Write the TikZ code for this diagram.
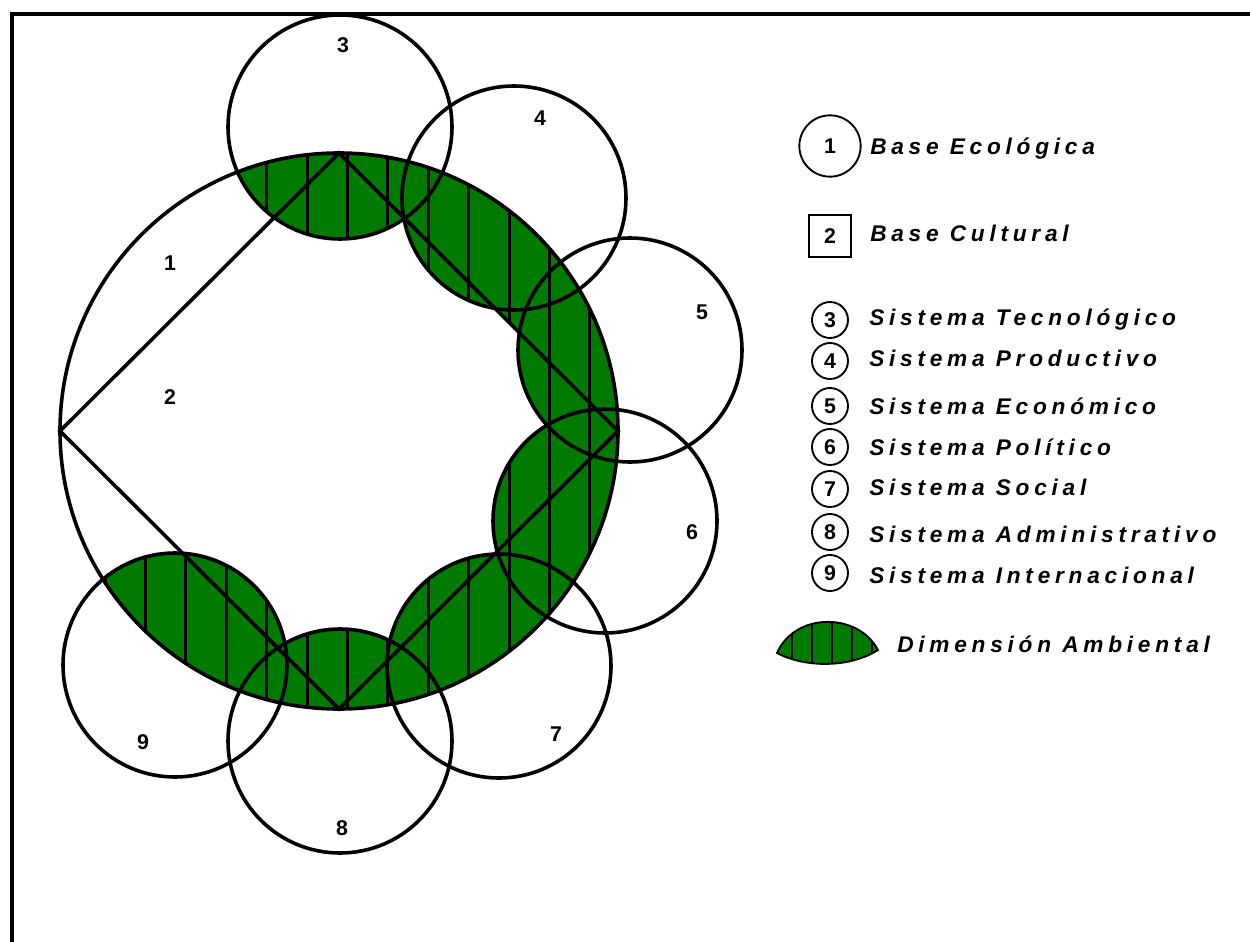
\documentclass[tikz,border=0pt]{standalone}
\usepackage{fontspec}
\setmainfont{Liberation Sans}
\newfontfamily\legfont{Liberation Sans}[LetterSpace=21]
\definecolor{ambgreen}{RGB}{0,122,0}

\begin{document}
\begin{tikzpicture}[
    x=0.75pt, y=-0.75pt,
    ring/.style={draw, line width=2.7pt},
    hatch/.style={line width=2.2pt},
    num/.style={font=\fontsize{16}{18}\selectfont\bfseries, inner sep=0pt},
    keyring/.style={circle, draw, line width=1.4pt, minimum size=27pt, num},
    legtext/.style={font=\fontsize{17}{20}\selectfont\legfont\bfseries\itshape, anchor=base west, inner sep=0pt}
]
\useasboundingbox (0,0) rectangle (1250,942);

% Frame
\draw[line width=3pt] (12,960) -- (12,14) -- (1270,14);

% Diamond corners on the ellipse
\coordinate (top) at (339,153);
\coordinate (right) at (618,431);
\coordinate (bottom) at (339,709);
\coordinate (left) at (60,431);

% Green band: ellipse cut by the systems
\foreach \cx/\cy in {340/127, 514/198, 630/350, 605/521, 499/666, 340/741, 175/665} {
  \begin{scope}
    \clip (339,431) ellipse [x radius=279, y radius=278];
    \clip (\cx,\cy) circle [radius=112];
    \fill[ambgreen] (0,0) rectangle (1250,942);
    \foreach \k in {-6,...,7} \draw[hatch] ({347.5+40.4*\k},100) -- ++(0,700);
  \end{scope}
}
\begin{scope}
  \clip (339,431) ellipse [x radius=279, y radius=278];
  \clip (339,100) -- (top) -- (right) -- (bottom) -- (339,760) -- (700,760) -- (700,100) -- cycle;
  \fill[ambgreen] (0,0) rectangle (1250,942);
  \foreach \k in {-6,...,7} \draw[hatch] ({347.5+40.4*\k},100) -- ++(0,700);
\end{scope}

% Base ecologica and base cultural
\draw[ring] (339,431) ellipse [x radius=279, y radius=278];
\draw[ring] (top) -- (right) -- (bottom) -- (left) -- cycle;

% Systems
\foreach \cx/\cy in {340/127, 514/198, 630/350, 605/521, 499/666, 340/741, 175/665}
  \draw[ring] (\cx,\cy) circle [radius=112];

% Numbers
\node[num] (n1) at (170,263) {1};
\node[num] (n2) at (170,397) {2};
\node[num] (n3) at (343,45) {3};
\node[num] (n4) at (540,118) {4};
\node[num] (n5) at (702,312) {5};
\node[num] (n6) at (692,532) {6};
\node[num] (n7) at (556,734) {7};
\node[num] (n8) at (342,828) {8};
\node[num] (n9) at (143,742) {9};

% Legend
\node[keyring, minimum size=46pt] (key1) at (830,146) {1};
\node[legtext] (eco) at (870,154) {Base Ecológica};
\node[draw, line width=1.4pt, minimum size=32pt, num] (key2) at (830,236) {2};
\node[legtext] (cult) at (870,241) {Base Cultural};
\foreach \n/\cy/\by/\txt in {3/320/325/Sistema Tecnológico, 4/361/366/Sistema Productivo,
    5/406/414/Sistema Económico, 6/447/455/Sistema Político, 7/489/495/Sistema Social,
    8/532/542/Sistema Administrativo, 9/573/583/Sistema Internacional} {
  \node[keyring] (key\n) at (830,\cy) {\n};
  \node[legtext] (sys\n) at (869,\by) {\txt};
}

% Legend: dimension ambiental
\begin{scope}
  \clip (777,653) .. controls (795,612) and (858,612) .. (878,650) .. controls (850,668) and (805,668) .. (777,653) -- cycle;
  \fill[ambgreen] (770,600) rectangle (890,680);
  \foreach \hx in {792,812,832,852,872} \draw[line width=1.4pt] (\hx,600) -- (\hx,680);
\end{scope}
\draw[line width=1.4pt] (777,653) .. controls (795,612) and (858,612) .. (878,650) .. controls (850,668) and (805,668) .. (777,653) -- cycle;
\node[legtext] (amb) at (897,652) {Dimensión Ambiental};

\end{tikzpicture}
\end{document}
